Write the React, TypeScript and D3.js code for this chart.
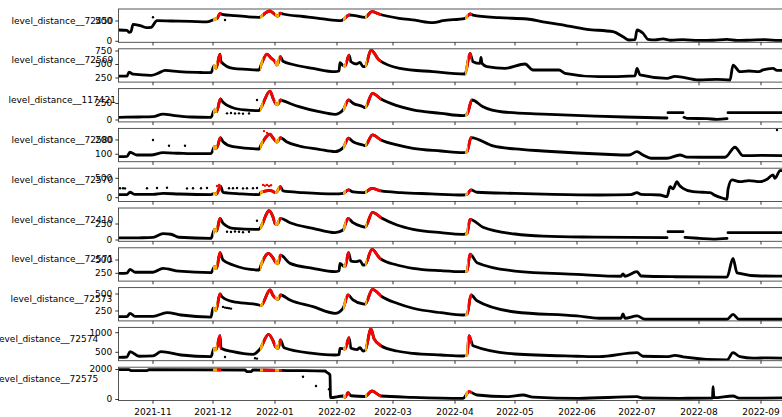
import React from "react";
import * as d3 from "d3";

type Pt = [string, number | null];

// x extent and ticks
const xStart = "2021-10-14T18";
const xEnd = "2022-09-20T12";
const xTicks = [
  "2021-11-01", "2021-12-01", "2022-01-01", "2022-02-01", "2022-03-01",
  "2022-04-01", "2022-05-01", "2022-06-01", "2022-07-01", "2022-08-01", "2022-09-01",
];
const xTickLabels = [
  "2021-11", "2021-12", "2022-01", "2022-02", "2022-03",
  "2022-04", "2022-05", "2022-06", "2022-07", "2022-08", "2022-09",
];

// flagged periods (orange = onset, red = rising / high)
const orangePeriods: [string, string][] = [
  ["2021-12-01", "2021-12-03"],
  ["2021-12-24T12", "2021-12-26"],
  ["2022-01-01", "2022-01-03"],
  ["2022-02-04", "2022-02-05T12"],
  ["2022-02-15", "2022-02-16"],
  ["2022-04-06", "2022-04-07T12"],
];
const redPeriods: [string, string][] = [
  ["2021-12-03", "2021-12-05"],
  ["2021-12-26", "2022-01-01"],
  ["2022-01-03", "2022-01-04T12"],
  ["2022-02-05T12", "2022-02-07T12"],
  ["2022-02-16", "2022-02-23"],
  ["2022-04-07T12", "2022-04-09T12"],
];

const s72450: Pt[] = [
  ["2021-10-15", 278], ["2021-10-19", 270], ["2021-10-20", 221], ["2021-10-21", 240],
  ["2021-10-22", 418], ["2021-10-26", 377], ["2021-10-29", 335], ["2021-10-31", 340],
  ["2021-11-03", 507], ["2021-11-10", 500], ["2021-11-20", 490], ["2021-11-28", 478],
  ["2021-12-01", 524], ["2021-12-02", 549], ["2021-12-03", 560], ["2021-12-04T12", 689],
  ["2021-12-05T12", 665], ["2021-12-12", 630], ["2021-12-18", 605], ["2021-12-24", 591],
  ["2021-12-25", 606], ["2021-12-27", 690], ["2021-12-29T12", 746], ["2021-12-31", 700],
  ["2022-01-01T12", 640], ["2022-01-02T12", 620], ["2022-01-03T12", 690], ["2022-01-05", 672],
  ["2022-01-15", 610], ["2022-01-25", 550], ["2022-02-03", 507], ["2022-02-04T12", 549],
  ["2022-02-07", 647], ["2022-02-10", 630], ["2022-02-15", 591], ["2022-02-18T12", 729],
  ["2022-02-22", 672], ["2022-03-04", 566], ["2022-03-12", 520], ["2022-03-21", 458],
  ["2022-03-26", 507], ["2022-04-06", 566], ["2022-04-08T12", 672], ["2022-04-10", 647],
  ["2022-04-23", 581], ["2022-05-07", 549], ["2022-05-15", 480], ["2022-05-23", 418],
  ["2022-06-06", 295], ["2022-06-19", 236], ["2022-06-24", 113], ["2022-06-27", 32],
  ["2022-06-30", 40], ["2022-07-01", 278], ["2022-07-04", 197], ["2022-07-06T12", 49],
  ["2022-07-10", 35], ["2022-07-14", 60], ["2022-07-18", 25], ["2022-07-24", 40],
  ["2022-08-01", 20], ["2022-08-08", 25], ["2022-08-15", 45], ["2022-08-20", 20],
  ["2022-08-27", 30], ["2022-09-03", 40], ["2022-09-10", 20], ["2022-09-15", 30],
];
const o72450: Pt[] = [["2021-11-01", 591], ["2021-12-07", 524]];

const s72569: Pt[] = [
  ["2021-10-15", 285], ["2021-10-19", 285], ["2021-10-20", 360], ["2021-10-22", 320],
  ["2021-10-31", 300], ["2021-11-04", 345], ["2021-11-07", 390], ["2021-11-14", 367],
  ["2021-11-25", 352], ["2021-11-30", 348], ["2021-12-01T12", 472], ["2021-12-02T12", 430],
  ["2021-12-04T12", 694], ["2021-12-05", 552], ["2021-12-11", 429], ["2021-12-18", 411],
  ["2021-12-24", 398], ["2021-12-25", 490], ["2021-12-28", 694], ["2021-12-30", 620],
  ["2022-01-01", 552], ["2022-01-02", 490], ["2022-01-03T18", 644], ["2022-01-05", 560],
  ["2022-01-10", 500], ["2022-01-20", 429], ["2022-01-31", 367], ["2022-02-02", 380],
  ["2022-02-02T12", 533], ["2022-02-04", 480], ["2022-02-05", 472], ["2022-02-07", 675],
  ["2022-02-08", 552], ["2022-02-10T18", 509], ["2022-02-12T12", 540], ["2022-02-14", 459],
  ["2022-02-15", 459], ["2022-02-18", 768], ["2022-02-22", 583], ["2022-03-04T12", 429],
  ["2022-03-21", 367], ["2022-04-06", 324], ["2022-04-08T12", 707], ["2022-04-10", 552],
  ["2022-04-13T12", 520], ["2022-04-14", 633], ["2022-04-14T12", 520], ["2022-04-17", 459],
  ["2022-04-26", 429], ["2022-05-06", 509], ["2022-05-10", 398], ["2022-05-23", 398],
  ["2022-05-26", 337], ["2022-06-12", 274], ["2022-06-30", 290], ["2022-07-01", 429],
  ["2022-07-02T12", 306], ["2022-07-16", 244], ["2022-07-20", 280], ["2022-08-01", 213],
  ["2022-08-10", 225], ["2022-08-16T12", 213], ["2022-08-18", 490], ["2022-08-21T12", 367],
  ["2022-08-26", 380], ["2022-08-31", 367], ["2022-09-02", 400], ["2022-09-07", 429],
  ["2022-09-09", 390], ["2022-09-15", 398],
];

const s117421: Pt[] = [
  ["2021-10-15", 41], ["2021-10-25", 45], ["2021-11-01", 50], ["2021-11-06", 90],
  ["2021-11-12", 65], ["2021-11-20", 45], ["2021-11-30", 41], ["2021-12-01T18", 152],
  ["2021-12-02T18", 126], ["2021-12-04T18", 318], ["2021-12-06", 268], ["2021-12-11", 186],
  ["2021-12-17", 152], ["2021-12-24", 141], ["2021-12-25", 186], ["2021-12-29T12", 439],
  ["2021-12-31", 330], ["2022-01-01T06", 253], ["2022-01-02T06", 230], ["2022-01-03T18", 303],
  ["2022-01-04T18", 293], ["2022-01-13", 202], ["2022-01-23", 126], ["2022-01-31", 86],
  ["2022-02-04", 152], ["2022-02-06T18", 303], ["2022-02-09", 253], ["2022-02-14", 202],
  ["2022-02-15", 186], ["2022-02-18T18", 404], ["2022-02-23", 318], ["2022-03-03", 217],
  ["2022-03-11", 152], ["2022-03-25", 101], ["2022-04-05", 65], ["2022-04-07", 86],
  ["2022-04-09T12", 303], ["2022-04-15", 200], ["2022-04-25", 121], ["2022-05-15", 90],
  ["2022-06-10", 60], ["2022-06-25", 45], ["2022-07-16", 30], ["2022-07-16T06", null],
  ["2022-07-16T12", 111], ["2022-07-24", 111], ["2022-07-24T06", null], ["2022-07-24T12", 40],
  ["2022-07-26", 25], ["2022-08-05", 20], ["2022-08-10", 10], ["2022-08-15", 22],
  ["2022-08-15T06", null], ["2022-08-15T12", 111], ["2022-09-15", 111],
];
const o117421: Pt[] = [
  ["2021-12-08", 101], ["2021-12-10", 105], ["2021-12-12", 98], ["2021-12-14", 101],
  ["2021-12-16", 96], ["2021-12-19", 100], ["2021-12-23", 303],
];

const s72580: Pt[] = [
  ["2021-10-15", 83], ["2021-10-19", 85], ["2021-10-20T12", 114], ["2021-10-24", 95],
  ["2021-10-31", 95], ["2021-11-06", 111], ["2021-11-14", 107], ["2021-11-20", 104],
  ["2021-11-30", 105], ["2021-12-01T18", 153], ["2021-12-02T18", 142], ["2021-12-04T18", 216],
  ["2021-12-06", 188], ["2021-12-11", 153], ["2021-12-24", 137], ["2021-12-25", 165],
  ["2021-12-29T12", 240], ["2021-12-31", 215], ["2022-01-01T06", 193], ["2022-01-02", 185],
  ["2022-01-03T18", 216], ["2022-01-06T18", 188], ["2022-01-13", 158], ["2022-01-23", 135],
  ["2022-01-31", 118], ["2022-02-04", 146], ["2022-02-06T18", 212], ["2022-02-09", 188],
  ["2022-02-14", 165], ["2022-02-15", 160], ["2022-02-18T18", 235], ["2022-02-23", 200],
  ["2022-03-03", 165], ["2022-03-11", 142], ["2022-03-25", 123], ["2022-04-05", 111],
  ["2022-04-07", 118], ["2022-04-09", 216], ["2022-04-20", 158], ["2022-05-01", 137],
  ["2022-05-15", 123], ["2022-06-01", 109], ["2022-06-15", 100], ["2022-06-27", 95],
  ["2022-07-01", 118], ["2022-07-04", 95], ["2022-07-08", 72], ["2022-07-16", 72],
  ["2022-07-22T12", 95], ["2022-07-26", 80], ["2022-08-02", 79], ["2022-08-14", 79],
  ["2022-08-19", 149], ["2022-08-23", 90], ["2022-09-01", 92], ["2022-09-15", 90],
];
const o72580: Pt[] = [
  ["2021-11-01", 200], ["2021-11-09", 160], ["2021-11-17", 160],
  ["2021-12-26T12", 262], ["2021-12-28", 250], ["2022-09-09", 270],
];

const s72570: Pt[] = [
  ["2021-10-15", 80], ["2021-10-19", 80], ["2021-10-20T12", 140], ["2021-10-23", 85],
  ["2021-11-01", 85], ["2021-11-06", 110], ["2021-11-14", 95], ["2021-11-30", 80],
  ["2021-12-01T18", 113], ["2021-12-02T18", 95], ["2021-12-04T18", 300], ["2021-12-06", 139],
  ["2021-12-15", 100], ["2021-12-24", 80], ["2021-12-25", 139], ["2021-12-27", 170],
  ["2021-12-29T12", 190], ["2021-12-31", 160], ["2022-01-01T12", 130], ["2022-01-03T18", 284],
  ["2022-01-05", 173], ["2022-01-15", 130], ["2022-01-31", 96], ["2022-02-04", 113],
  ["2022-02-06T18", 199], ["2022-02-09", 150], ["2022-02-14", 130], ["2022-02-15", 139],
  ["2022-02-18T12", 242], ["2022-02-23", 173], ["2022-03-05", 130], ["2022-03-20", 100],
  ["2022-04-05", 70], ["2022-04-07", 90], ["2022-04-09", 199], ["2022-04-12", 140],
  ["2022-05-01", 110], ["2022-05-20", 85], ["2022-06-12", 70], ["2022-06-28", 80],
  ["2022-07-01", 130], ["2022-07-03", 85], ["2022-07-12T12", 70], ["2022-07-16", 26],
  ["2022-07-17T12", 284], ["2022-07-19", 230], ["2022-07-21", 413], ["2022-07-22", 330],
  ["2022-07-24", 242], ["2022-07-29", 155], ["2022-08-03", 140], ["2022-08-06T12", 129],
  ["2022-08-09", 60], ["2022-08-13", -15], ["2022-08-15", -41], ["2022-08-15T12", 217],
  ["2022-08-17T12", 457], ["2022-08-21T12", 413], ["2022-08-26", 440], ["2022-08-31T12", 413],
  ["2022-09-04", 475], ["2022-09-07", 586], ["2022-09-08", 500], ["2022-09-10T12", 697],
  ["2022-09-15", 700],
];
const o72570: Pt[] = [
  ["2021-10-15T12", 245], ["2021-10-17", 245], ["2021-10-18", 240], ["2021-10-29", 245],
  ["2021-11-03", 250], ["2021-11-08", 255], ["2021-11-18", 240], ["2021-11-21", 245],
  ["2021-11-25", 245], ["2021-11-28", 250], ["2021-12-03", 300], ["2021-12-04", 330],
  ["2021-12-09", 245], ["2021-12-11", 245], ["2021-12-13", 250], ["2021-12-16", 240],
  ["2021-12-18", 245], ["2021-12-21", 245], ["2021-12-23", 250], ["2021-12-26", 330],
  ["2021-12-27", 310], ["2021-12-28", 330], ["2021-12-29", 300], ["2021-12-30", 320],
];

const s72410: Pt[] = [
  ["2021-10-15", 32], ["2021-10-25", 35], ["2021-11-01", 40], ["2021-11-06", 100],
  ["2021-11-10", 90], ["2021-11-14", 43], ["2021-11-30", 27], ["2021-12-01T18", 167],
  ["2021-12-02T18", 140], ["2021-12-04T12", 339], ["2021-12-06", 261], ["2021-12-11", 183],
  ["2021-12-24", 167], ["2021-12-25", 208], ["2021-12-29", 457], ["2021-12-31", 360],
  ["2022-01-01", 261], ["2022-01-02", 240], ["2022-01-03T18", 339], ["2022-01-08T12", 270],
  ["2022-01-20", 183], ["2022-01-31", 114], ["2022-02-04", 156], ["2022-02-06T12", 339],
  ["2022-02-09", 270], ["2022-02-14", 208], ["2022-02-15", 200], ["2022-02-18T18", 432],
  ["2022-02-23T12", 339], ["2022-03-03", 234], ["2022-03-11", 167], ["2022-03-25", 114],
  ["2022-04-05", 89], ["2022-04-07", 100], ["2022-04-08T12", 323], ["2022-04-15", 200],
  ["2022-05-01", 94], ["2022-05-15", 60], ["2022-06-10", 45], ["2022-07-16", 36],
  ["2022-07-16T06", null], ["2022-07-16T12", 130], ["2022-07-24", 130], ["2022-07-24T12", null],
  ["2022-07-25", 40], ["2022-08-01", 27], ["2022-08-08", 15], ["2022-08-15", 27],
  ["2022-08-15T06", null], ["2022-08-15T12", 114], ["2022-09-15", 114],
];
const o72410: Pt[] = [
  ["2021-12-08", 130], ["2021-12-10", 125], ["2021-12-12", 132], ["2021-12-14", 128],
  ["2021-12-16", 122], ["2021-12-19", 130], ["2021-12-23", 300],
];

const s72571: Pt[] = [
  ["2021-10-15", 250], ["2021-10-19", 255], ["2021-10-20T12", 325], ["2021-10-23", 270],
  ["2021-11-01", 270], ["2021-11-06", 344], ["2021-11-14", 290], ["2021-11-30", 262],
  ["2021-12-01T18", 374], ["2021-12-02T18", 340], ["2021-12-04T12", 636], ["2021-12-06", 499],
  ["2021-12-11", 406], ["2021-12-24", 312], ["2021-12-25", 406], ["2021-12-28T18", 625],
  ["2021-12-31", 540], ["2022-01-01T12", 449], ["2022-01-02T12", 430], ["2022-01-03T18", 593],
  ["2022-01-08T12", 437], ["2022-01-20", 344], ["2022-01-31", 281], ["2022-02-02", 300],
  ["2022-02-02T12", 437], ["2022-02-04", 390], ["2022-02-05", 374], ["2022-02-06T18", 636],
  ["2022-02-08", 481], ["2022-02-11", 470], ["2022-02-12T12", 490], ["2022-02-14", 406],
  ["2022-02-15", 410], ["2022-02-18T12", 700], ["2022-02-22T12", 531], ["2022-03-03", 406],
  ["2022-03-11", 344], ["2022-03-25", 299], ["2022-04-05", 281], ["2022-04-07", 290],
  ["2022-04-08T12", 612], ["2022-04-12", 450], ["2022-05-01", 293], ["2022-06-01", 230],
  ["2022-06-23", 195], ["2022-06-24", 240], ["2022-06-25", 195], ["2022-07-01", 281],
  ["2022-07-03", 200], ["2022-07-20", 186], ["2022-08-15", 180], ["2022-08-18", 531],
  ["2022-08-20", 260], ["2022-09-01", 200], ["2022-09-15", 195],
];

const s72573: Pt[] = [
  ["2021-10-15", 166], ["2021-10-19", 168], ["2021-10-20T12", 216], ["2021-10-23", 170],
  ["2021-11-01", 170], ["2021-11-08", 225], ["2021-11-15", 191], ["2021-11-30", 160],
  ["2021-12-01", 290], ["2021-12-02T12", 260], ["2021-12-04T12", 500], ["2021-12-05T12", 460],
  ["2021-12-11", 387], ["2021-12-21", 353], ["2021-12-24", 338], ["2021-12-25", 330],
  ["2021-12-29T12", 559], ["2021-12-31", 480], ["2022-01-01T12", 437], ["2022-01-02T12", 420],
  ["2022-01-03T18", 485], ["2022-01-08T12", 412], ["2022-01-20", 313], ["2022-01-31", 216],
  ["2022-02-04", 290], ["2022-02-06T12", 485], ["2022-02-09", 412], ["2022-02-14", 353],
  ["2022-02-15", 350], ["2022-02-18T18", 569], ["2022-02-23T12", 460], ["2022-03-03", 363],
  ["2022-03-11", 290], ["2022-03-25", 225], ["2022-04-05", 191], ["2022-04-07", 195],
  ["2022-04-09", 485], ["2022-04-12", 400], ["2022-05-01", 235], ["2022-06-01", 177],
  ["2022-06-12", 143], ["2022-06-23", 143], ["2022-06-24", 206], ["2022-06-25", 143],
  ["2022-07-01", 177], ["2022-07-05", 128], ["2022-08-15", 128], ["2022-08-18", 201],
  ["2022-08-21", 128], ["2022-09-15", 128],
];
const o72573: Pt[] = [
  ["2021-12-06", 310], ["2021-12-07", 300], ["2021-12-08", 295], ["2021-12-09", 290],
  ["2021-12-10", 285],
];

const s72574: Pt[] = [
  ["2021-10-15", 372], ["2021-10-19", 380], ["2021-10-20T12", 515], ["2021-10-25", 400],
  ["2021-11-01", 410], ["2021-11-05", 515], ["2021-11-15", 431], ["2021-11-30", 388],
  ["2021-12-01T12", 602], ["2021-12-02T12", 560], ["2021-12-04T12", 923], ["2021-12-05", 602],
  ["2021-12-11", 515], ["2021-12-21", 449], ["2021-12-24T12", 584], ["2021-12-28T18", 959],
  ["2021-12-31", 800], ["2022-01-01T06", 643], ["2022-01-02T12", 600], ["2022-01-03T18", 814],
  ["2022-01-05T12", 617], ["2022-01-20", 474], ["2022-01-31", 431], ["2022-02-02", 440],
  ["2022-02-02T12", 602], ["2022-02-05", 584], ["2022-02-07", 872], ["2022-02-08", 602],
  ["2022-02-11", 570], ["2022-02-12T12", 617], ["2022-02-14", 533], ["2022-02-15", 540],
  ["2022-02-18", 1094], ["2022-02-19T12", 850], ["2022-02-23", 668], ["2022-03-03", 533],
  ["2022-03-11", 474], ["2022-03-25", 431], ["2022-04-05", 406], ["2022-04-07", 431],
  ["2022-04-08", 923], ["2022-04-10", 668], ["2022-05-01", 457], ["2022-06-01", 400],
  ["2022-06-12", 388], ["2022-07-01", 490], ["2022-07-04", 400], ["2022-07-16", 390],
  ["2022-07-20", 420], ["2022-07-24", 385], ["2022-08-15", 304], ["2022-08-18", 490],
  ["2022-08-21T12", 388], ["2022-08-28", 350], ["2022-09-05", 360], ["2022-09-15", 347],
];
const o72574: Pt[] = [
  ["2021-12-07", 380], ["2021-12-22", 350], ["2021-12-23", 340],
];

const s72575: Pt[] = [
  ["2021-10-15", 1990], ["2021-10-20", 1990], ["2021-10-21", 1920], ["2021-10-29", 1920],
  ["2021-10-30", 1990], ["2021-12-17", 1967], ["2021-12-18", 1855], ["2021-12-20", 1855],
  ["2021-12-21", 1967], ["2022-01-10", 1930], ["2022-01-26", 1900], ["2022-01-27", 1800],
  ["2022-01-28T12", 1634], ["2022-01-28T18", 120], ["2022-02-04", 233], ["2022-02-05", 150],
  ["2022-02-06T12", 453], ["2022-02-08", 250], ["2022-02-15", 200], ["2022-02-18T12", 567],
  ["2022-02-23", 233], ["2022-03-11", 147], ["2022-04-05", 80], ["2022-04-08", 520],
  ["2022-04-12", 300], ["2022-04-27", 187], ["2022-05-05", 300], ["2022-05-10", 160],
  ["2022-06-02", 80], ["2022-07-01", 187], ["2022-07-04", 100], ["2022-07-22", 80],
  ["2022-08-07T18", 100], ["2022-08-08", 850], ["2022-08-08T06", 450], ["2022-08-08T12", 120],
  ["2022-08-18", 233], ["2022-08-21", 90], ["2022-09-15", 110],
];
const o72575: Pt[] = [["2022-01-15", 1521], ["2022-01-21T12", 900], ["2022-01-28", 680]];

const panels = [
  { name: "level_distance__72450", data: s72450, dots: o72450, domain: [-25, 795], ticks: [0, 500], labelX: 11.5 },
  { name: "level_distance__72569", data: s72569, dots: [], domain: [174, 791], ticks: [250, 500, 750], labelX: 11.5 },
  { name: "level_distance__117421", data: s117421, dots: o117421, domain: [-29, 476], ticks: [0, 250], labelX: 8.5 },
  { name: "level_distance__72580", data: s72580, dots: o72580, domain: [48, 281], ticks: [100, 200], labelX: 11.5 },
  { name: "level_distance__72570", data: s72570, dots: o72570, domain: [-98, 760], ticks: [0, 500], labelX: 11.5 },
  { name: "level_distance__72410", data: s72410, dots: o72410, domain: [-20, 500], ticks: [0, 250], labelX: 11.5 },
  { name: "level_distance__72571", data: s72571, dots: [], domain: [104, 729], ticks: [250, 500], labelX: 11.5 },
  { name: "level_distance__72573", data: s72573, dots: o72573, domain: [104, 594], ticks: [250, 500], labelX: 10.5 },
  { name: "level_distance__72574", data: s72574, dots: o72574, domain: [286, 1135], ticks: [500, 1000], labelX: -3.5 },
  { name: "level_distance__72575", data: s72575, dots: o72575, domain: [-67, 2153], ticks: [0, 2000], labelX: -3.5 },
];

const W = 782;
const H = 417;
const left = 118.5;
const right = 800;
const top0 = 9;
const pitch = 39.8;
const ph = 33.3;
const font = "DejaVu Sans";

const parseDate = (s: string) =>
  new Date(s.length > 10 ? `${s}:00:00Z` : `${s}T00:00:00Z`);

const x = d3.scaleUtc().domain([parseDate(xStart), parseDate(xEnd)]).range([left, right]);

const inPeriods = (s: string, periods: [string, string][]) => {
  const t = parseDate(s).getTime();
  return periods.some(([a, b]) => t >= parseDate(a).getTime() && t <= parseDate(b).getTime());
};

export default function App() {
  const bottom = top0 + 9 * pitch + ph;
  return (
    <svg
      width={W}
      height={H}
      style={{ position: "absolute", left: 0, top: 0, background: "#fff" }}
      fontFamily={font}
    >
      <defs>
        <clipPath id="clip-red">
          {redPeriods.map(([a, b], i) => (
            <rect key={i} x={x(parseDate(a))} y={0} width={x(parseDate(b)) - x(parseDate(a))} height={H} />
          ))}
        </clipPath>
        <clipPath id="clip-orange">
          {orangePeriods.map(([a, b], i) => (
            <rect key={i} x={x(parseDate(a))} y={0} width={x(parseDate(b)) - x(parseDate(a))} height={H} />
          ))}
        </clipPath>
        {panels.map((p, i) => (
          <clipPath key={i} id={`ax-${i}`}>
            <rect x={left} y={top0 + i * pitch} width={right - left} height={ph} />
          </clipPath>
        ))}
      </defs>

      {panels.map((p, i) => {
        const top = top0 + i * pitch;
        const y = d3.scaleLinear().domain(p.domain).range([top + ph, top]);
        const line = d3
          .line<Pt>()
          .defined((d) => d[1] != null)
          .curve(d3.curveMonotoneX)
          .x((d) => x(parseDate(d[0])))
          .y((d) => y(d[1] as number));
        const path = line(p.data) || "";
        return (
          <g key={p.name}>
            <g clipPath={`url(#ax-${i})`}>
              <path d={path} fill="none" stroke="#000" strokeWidth={2.8} strokeLinejoin="round" strokeLinecap="round" />
              <path d={path} fill="none" stroke="#ffa500" strokeWidth={2.8} strokeLinejoin="round" clipPath="url(#clip-orange)" />
              <path d={path} fill="none" stroke="#ff0000" strokeWidth={2.8} strokeLinejoin="round" clipPath="url(#clip-red)" />
              {p.dots.map((d, j) => (
                <circle
                  key={j}
                  cx={x(parseDate(d[0]))}
                  cy={y(d[1] as number)}
                  r={1.2}
                  fill={inPeriods(d[0], redPeriods) ? "#ff0000" : "#000"}
                />
              ))}
            </g>
            <rect x={left} y={top} width={right - left} height={ph} fill="none" stroke="#444" strokeWidth={0.9} />
            {p.ticks.map((t) => (
              <g key={t}>
                <line x1={left - 3.2} x2={left} y1={y(t)} y2={y(t)} stroke="#000" strokeWidth={0.8} />
                <text x={left - 6.2} y={y(t)} dy="0.33em" textAnchor="end" fontSize={9} fill="#000">
                  {t}
                </text>
              </g>
            ))}
            {xTicks.map((t) => (
              <line
                key={t}
                x1={x(parseDate(t))}
                x2={x(parseDate(t))}
                y1={top + ph}
                y2={top + ph + 3.2}
                stroke="#000"
                strokeWidth={0.8}
              />
            ))}
            <text x={p.labelX} y={top + ph / 2 - 2} fontSize={9} fill="#000">
              {p.name}
            </text>
          </g>
        );
      })}

      {xTicks.map((t, i) => (
        <text key={t} x={x(parseDate(t))} y={bottom + 14} textAnchor="middle" fontSize={9} fill="#000">
          {xTickLabels[i]}
        </text>
      ))}
    </svg>
  );
}
